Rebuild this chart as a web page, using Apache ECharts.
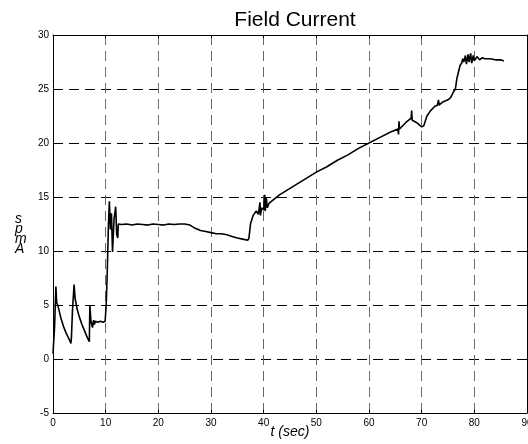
<!DOCTYPE html>
<html>
<head>
<meta charset="utf-8">
<script src="https://cdn.jsdelivr.net/npm/echarts@6/dist/echarts.min.js"></script>
<style>
html,body{margin:0;padding:0;background:#fff;}
#chart{width:528px;height:444px;}
</style>
</head>
<body>
<div id="chart"></div>
<script>
var titleText = 'Field Current';
var xLabel = 't (sec)';
var yLabel = 's\np\nm\nA';
var xTicks = [0, 10, 20, 30, 40, 50, 60, 70, 80, 90];
var yTicks = [-5, 0, 5, 10, 15, 20, 25, 30];

var timeSec = [
  0, 0.3, 0.55, 0.7, 0.9, 1.0, 1.5, 2.0, 2.5, 3.0, 3.4, 3.5, 3.7, 4.0, 4.2, 4.6, 5.0, 5.5, 6.0, 6.5, 6.9,
  7.0, 7.2, 7.5, 7.7, 7.9, 8.0, 8.5, 9.0, 9.5, 9.9, 10.1, 10.3, 10.5, 10.7, 10.9, 11.1, 11.3, 11.6, 11.9,
  12.1, 12.3, 12.4, 13, 14, 15, 16, 17, 18, 19, 20, 21, 22, 23, 24, 25, 26,
  27, 28, 29, 30, 31, 32, 33, 34, 35, 36, 37, 37.2, 37.5, 38, 38.3, 38.6, 39, 39.3, 39.4, 39.6, 40,
  40.2, 40.3, 40.5, 40.7, 41, 42, 43, 44, 45, 46, 48, 50, 52, 54, 56, 58, 60, 62, 64,
  65.5, 65.6, 65.7, 65.8, 67, 68, 68.1, 68.2, 69, 70, 70.4, 71, 71.7, 72.5, 73, 73.2, 73.3, 74, 75, 75.5,
  76, 76.4, 76.7, 77, 77.3, 77.6, 77.8, 78.0, 78.3, 78.5, 78.8, 79, 79.3, 79.5, 79.8, 80, 80.5, 81, 81.5,
  82, 83, 84, 85, 85.6
];
var amps = [
  0.5, 3.0, 6.7, 5.2, 5.0, 4.8, 3.8, 3.0, 2.4, 1.9, 1.45, 2.0, 4.5, 6.9, 5.6, 4.6, 3.9, 3.2, 2.6, 2.0, 1.6,
  5.0, 3.5, 2.9, 3.6, 3.2, 3.5, 3.4, 3.5, 3.4, 3.5, 5.0, 8.0, 12.0, 14.6, 12.0, 13.5, 9.9, 13.0, 14.1,
  11.5, 11.2, 12.5, 12.45, 12.5, 12.4, 12.5, 12.45, 12.4, 12.5, 12.45, 12.4, 12.5, 12.45, 12.5, 12.5, 12.4,
  12.1, 11.9, 11.8, 11.7, 11.6, 11.6, 11.5, 11.35, 11.2, 11.1, 11.0, 11.2, 12.5, 13.3, 13.2, 13.7, 13.4, 14.5, 13.3, 14.0, 13.8,
  15.2, 13.7, 14.9, 14.0, 14.4, 14.8, 15.2, 15.5, 15.8, 16.1, 16.7, 17.3, 17.8, 18.4, 18.9, 19.5, 20.0, 20.5, 21.0,
  21.3, 20.8, 22.0, 21.3, 21.9, 22.3, 23.0, 22.1, 21.9, 21.5, 21.6, 22.5, 23.0, 23.4, 23.5, 24.0, 23.5, 23.8, 24.0, 24.2,
  24.7, 25.0, 26.0, 26.6, 27.2, 27.4, 27.8, 27.5, 28.1, 27.3, 28.2, 27.5, 28.3, 27.4, 28.1, 27.6, 28.0, 27.7, 27.9,
  27.8, 27.8, 27.7, 27.7, 27.6
];

var seriesData = timeSec.map(function (t, i) { return [t, amps[i]]; });

var chart = echarts.init(document.getElementById('chart'), null, {renderer: 'canvas'});
var tickFont = {fontFamily: 'Liberation Sans, Arial, sans-serif', fontSize: 10, color: '#000'};

chart.setOption({
  animation: false,
  backgroundColor: '#fff',
  title: {
    text: titleText,
    left: 290, top: 5, textAlign: 'center',
    textStyle: {fontFamily: 'Liberation Sans, Arial, sans-serif', fontSize: 21, fontWeight: 'normal', color: '#000'}
  },
  grid: {left: 53, top: 35, right: 1, bottom: 31, containLabel: false, outerBoundsMode: 'none'},
  xAxis: [{
    type: 'value', min: xTicks[0], max: xTicks[xTicks.length - 1], interval: 10,
    position: 'bottom',
    name: xLabel, nameLocation: 'middle', nameGap: 12, nameMoveOverlap: false,
    nameTextStyle: {fontFamily: 'Liberation Sans, Arial, sans-serif', fontSize: 14, fontStyle: 'italic', color: '#000', verticalAlign: 'top'},
    axisLine: {show: true, onZero: false, lineStyle: {color: '#000', width: 1}},
    axisTick: {show: true, inside: true, length: 3, lineStyle: {color: '#000'}},
    axisLabel: Object.assign({margin: 5}, tickFont),
    splitLine: {show: true, lineStyle: {color: '#666', width: 1, type: [10, 6]}}
  }, {
    type: 'value', min: xTicks[0], max: xTicks[xTicks.length - 1], interval: 10,
    position: 'top',
    axisLine: {show: true, onZero: false, lineStyle: {color: '#000', width: 1}},
    axisTick: {show: true, inside: true, length: 3, lineStyle: {color: '#000'}},
    axisLabel: {show: false},
    splitLine: {show: false}
  }],
  yAxis: [{
    type: 'value', min: yTicks[0], max: yTicks[yTicks.length - 1], interval: 5,
    position: 'left',
    axisLine: {show: true, onZero: false, lineStyle: {color: '#000', width: 1}},
    axisTick: {show: true, inside: true, length: 3, lineStyle: {color: '#000'}},
    axisLabel: Object.assign({margin: 4}, tickFont),
    splitLine: {show: true, lineStyle: {color: '#000', width: 1, type: [10, 6]}}
  }, {
    type: 'value', min: yTicks[0], max: yTicks[yTicks.length - 1], interval: 5,
    position: 'right',
    axisLine: {show: true, onZero: false, lineStyle: {color: '#000', width: 1}},
    axisTick: {show: true, inside: true, length: 3, lineStyle: {color: '#000'}},
    axisLabel: {show: false},
    splitLine: {show: false}
  }],
  graphic: [{
    type: 'text',
    left: 15, top: 212,
    style: {
      text: yLabel,
      font: 'italic 14px "Liberation Sans", Arial, sans-serif',
      lineHeight: 10,
      fill: '#000',
      align: 'center'
    }
  }],
  series: [{
    type: 'line',
    xAxisIndex: 0, yAxisIndex: 0,
    data: seriesData,
    showSymbol: false,
    lineStyle: {color: '#000', width: 1.6},
    z: 5
  }]
});
</script>
</body>
</html>
